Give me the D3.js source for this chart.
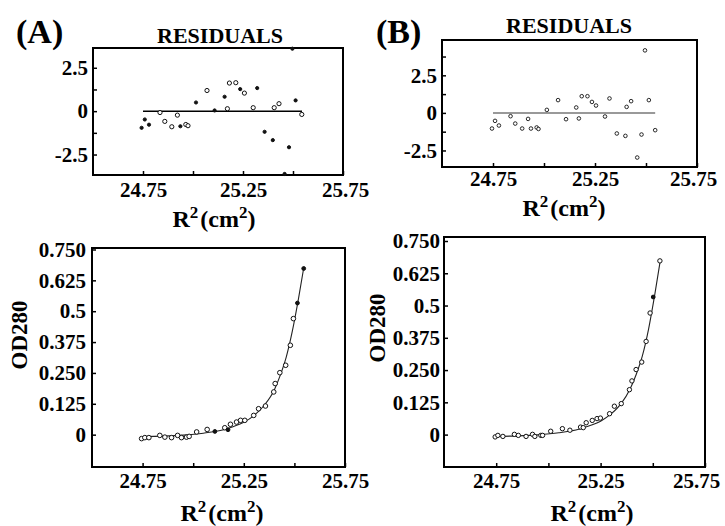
<!DOCTYPE html>
<html><head><meta charset="utf-8">
<script src="https://cdn.jsdelivr.net/npm/d3@7"></script>
<style>
body{margin:0;background:#fff}
svg{display:block}
text{font-family:"Liberation Serif","Times New Roman",serif;font-weight:bold;fill:#000}
</style>
</head><body>
<svg id="c" width="725" height="526"></svg>
<script>
// ---------- axis ticks ----------
const xTicks = [24.75, 25.0, 25.25, 25.5, 25.75];
const xTickLabels = ["24.75", "", "25.25", "", "25.75"];
const resTicksA = [-2.5, -1.25, 0, 1.25, 2.5];
const resTicksB = [-2.5, -1.25, 0, 1.25, 2.5, 3.75];
const resTickText = {"-2.5": "-2.5", "0": "0", "2.5": "2.5"};
const odTicks = [0, 0.125, 0.25, 0.375, 0.5, 0.625, 0.75];
const odTickLabels = ["0", "0.125", "0.250", "0.375", "0.5", "0.625", "0.750"];

// ---------- residuals, panel A ----------
const resA_x = [24.743, 24.759, 24.780, 24.835, 24.859, 24.894, 24.922, 24.937, 24.964, 24.975,
  25.015, 25.070, 25.108, 25.158, 25.172, 25.182, 25.214, 25.236, 25.257, 25.301,
  25.321, 25.358, 25.399, 25.406, 25.430, 25.480, 25.513, 25.544, 25.458, 25.497];
const resA_y = [-0.96, -0.48, -0.78, -0.08, -0.59, -0.90, -0.23, -0.87, -0.77, -0.84,
  0.50, 1.19, 0.04, 0.83, 0.14, 1.62, 1.64, 1.27, 1.04, 0.20,
  1.33, -1.19, -1.67, 0.20, 0.43, -2.08, 0.62, -0.19, -3.62, 3.60];
const resA_filled = [1,1,1,0,0,0,0,1,0,0, 1,0,1,1,0,0,0,1,0,0, 1,1,1,0,0,1,1,0,1,1];

// ---------- residuals, panel B ----------
const resB_x = [24.745, 24.760, 24.779, 24.836, 24.859, 24.893, 24.922, 24.936, 24.964, 24.973,
  25.014, 25.069, 25.108, 25.158, 25.171, 25.185, 25.213, 25.235, 25.255, 25.299,
  25.321, 25.357, 25.399, 25.405, 25.427, 25.457, 25.478, 25.495, 25.514, 25.545];
const resB_y = [-1.04, -0.53, -0.84, -0.22, -0.71, -1.04, -0.40, -1.04, -0.97, -1.07,
  0.20, 0.85, -0.42, 0.36, -0.37, 1.11, 1.11, 0.73, 0.49, -0.24,
  0.96, -1.37, -1.53, 0.40, 0.78, -2.97, -1.44, 4.16, 0.85, -1.15];

// ---------- OD280, panel A ----------
const odA_x = [24.745, 24.761, 24.781, 24.835, 24.860, 24.893, 24.923, 24.942, 24.967, 24.980,
  25.017, 25.069, 25.107, 25.156, 25.172, 25.184, 25.214, 25.234, 25.255, 25.299,
  25.323, 25.357, 25.398, 25.405, 25.428, 25.457, 25.480, 25.495, 25.515, 25.546];
const odA_y = [-0.016, -0.012, -0.012, -0.003, -0.010, -0.012, -0.003, -0.012, -0.010, -0.007,
  0.011, 0.021, 0.013, 0.028, 0.020, 0.042, 0.051, 0.058, 0.058, 0.078,
  0.105, 0.116, 0.173, 0.207, 0.251, 0.281, 0.362, 0.470, 0.533, 0.673];
const odA_filled = [0,0,0,0,0,0,0,0,0,0, 0,0,1,0,1,0,0,0,0,0, 0,0,0,0,0,0,0,0,1,1];
const fitA_x = [24.75, 24.85, 24.95, 25.05, 25.15, 25.2, 25.25, 25.3, 25.35, 25.4, 25.43, 25.46, 25.49, 25.52, 25.546];
const fitA_y = [-0.008, -0.006, -0.002, 0.006, 0.020, 0.033, 0.050, 0.077, 0.118, 0.180, 0.240, 0.315, 0.420, 0.550, 0.675];

// ---------- OD280, panel B ----------
const odB_x = [24.745, 24.758, 24.782, 24.837, 24.856, 24.893, 24.924, 24.935, 24.964, 24.972,
  25.011, 25.067, 25.103, 25.154, 25.167, 25.181, 25.210, 25.233, 25.249, 25.293,
  25.316, 25.349, 25.388, 25.400, 25.420, 25.447, 25.468, 25.487, 25.502, 25.534];
const odB_y = [-0.009, -0.003, -0.007, 0.001, -0.003, -0.007, 0.001, -0.007, -0.003, -0.003,
  0.013, 0.023, 0.017, 0.029, 0.027, 0.046, 0.055, 0.062, 0.064, 0.081,
  0.110, 0.120, 0.174, 0.208, 0.252, 0.281, 0.361, 0.471, 0.533, 0.673];
const odB_filled = [0,0,0,0,0,0,0,0,0,0, 0,0,0,0,0,0,0,0,0,0, 0,0,0,0,0,0,0,0,1,0];
const fitB_x = [24.75, 24.85, 24.95, 25.05, 25.15, 25.2, 25.25, 25.3, 25.35, 25.39, 25.42, 25.45, 25.48, 25.51, 25.536];
const fitB_y = [-0.007, -0.005, -0.001, 0.007, 0.022, 0.035, 0.052, 0.080, 0.122, 0.175, 0.232, 0.305, 0.410, 0.545, 0.675];

const zeroLine = [24.75, 25.545];

// ---------- drawing ----------
const svg = d3.select("#c");
const xDomain = [24.5, 25.75];

function r2Title(g, cx, y) {
  const t = g.append("text").attr("x", cx).attr("y", y).attr("text-anchor", "middle").style("font-size", "24px");
  t.append("tspan").text("R");
  t.append("tspan").attr("dy", -9).style("font-size", "17px").text("2");
  t.append("tspan").attr("dy", 9).attr("dx", 2).text("(cm");
  t.append("tspan").attr("dy", -9).style("font-size", "17px").text("2");
  t.append("tspan").attr("dy", 9).text(")");
}

function panel(cfg) {
  const x = d3.scaleLinear().domain(xDomain).range([cfg.left, cfg.right]);
  const y = d3.scaleLinear().domain(cfg.yDomain).range([cfg.bottom, cfg.top]);
  const g = svg.append("g");

  // x axis (inward ticks)
  const xa = g.append("g").attr("transform", `translate(0,${cfg.bottom})`)
    .call(d3.axisBottom(x).tickValues(xTicks).tickSize(-4).tickPadding(cfg.xPad)
      .tickFormat((d, i) => xTickLabels[i]));
  xa.select(".domain").remove();
  xa.selectAll("line").attr("stroke", "#000").attr("stroke-width", 1.5);
  xa.selectAll("text").style("font-size", "21px").attr("fill", "#000")
    .attr("dx", (d, i) => i === xTicks.length - 1 ? cfg.lastDx : 0);

  // y axis (inward ticks)
  const ya = g.append("g").attr("transform", `translate(${cfg.left},0)`)
    .call(d3.axisLeft(y).tickValues(cfg.yTicks).tickSize(-4).tickPadding(cfg.yPad)
      .tickFormat(cfg.yFormat));
  ya.select(".domain").remove();
  ya.selectAll("line").attr("stroke", "#000").attr("stroke-width", 1.5);
  ya.selectAll("text").style("font-size", "21px").attr("fill", "#000");

  // frame
  g.append("rect").attr("x", cfg.left).attr("y", cfg.top)
    .attr("width", cfg.right - cfg.left).attr("height", cfg.bottom - cfg.top)
    .attr("fill", "none").attr("stroke", "#000").attr("stroke-width", 2);

  // line
  const line = d3.line().x(d => x(d[0])).y(d => y(d[1])).curve(cfg.curve || d3.curveLinear);
  g.append("path").datum(d3.zip(cfg.lx, cfg.ly)).attr("d", line)
    .attr("fill", "none").attr("stroke", cfg.lineColor).attr("stroke-width", cfg.lineWidth);

  // points
  const pts = d3.zip(cfg.px, cfg.py, cfg.pf);
  g.append("g").selectAll("circle").data(pts).join("circle")
    .attr("cx", d => x(d[0])).attr("cy", d => y(d[1]))
    .attr("r", d => d[2] ? cfg.rFill : cfg.rOpen)
    .attr("fill", d => d[2] ? "#111" : "#fff")
    .attr("stroke", "#111").attr("stroke-width", cfg.ptStroke);

  return {x, y, g};
}

// Residuals A
panel({left: 93, right: 343, top: 48, bottom: 175, yDomain: [-3.68, 3.64],
  yTicks: resTicksA, yFormat: d => resTickText[String(d)] || "", xPad: 7, yPad: 5, lastDx: 2,
  lx: zeroLine, ly: [0, 0], lineColor: "#000", lineWidth: 1.5,
  px: resA_x, py: resA_y, pf: resA_filled, rFill: 1.6, rOpen: 2.1, ptStroke: 1});

// Residuals B
panel({left: 442, right: 697, top: 40, bottom: 167, yDomain: [-3.6, 4.85],
  yTicks: resTicksB, yFormat: d => resTickText[String(d)] || "", xPad: 4, yPad: 5, lastDx: -4,
  lx: zeroLine, ly: [0, 0], lineColor: "#777", lineWidth: 1.5,
  px: resB_x, py: resB_y, pf: resB_x.map(() => 0), rFill: 1.5, rOpen: 1.8, ptStroke: 0.9});

// OD280 A
panel({left: 92, right: 345, top: 248, bottom: 467, yDomain: [-0.131, 0.756],
  yTicks: odTicks, yFormat: (d, i) => odTickLabels[i], xPad: 6, yPad: 6, lastDx: 0,
  lx: fitA_x, ly: fitA_y, lineColor: "#222", lineWidth: 1.1, curve: d3.curveMonotoneX,
  px: odA_x, py: odA_y, pf: odA_filled, rFill: 1.9, rOpen: 2.3, ptStroke: 1});

// OD280 B
panel({left: 444, right: 705, top: 237, bottom: 467, yDomain: [-0.1255, 0.7655],
  yTicks: odTicks, yFormat: (d, i) => odTickLabels[i], xPad: 6, yPad: 4, lastDx: -9,
  lx: fitB_x, ly: fitB_y, lineColor: "#222", lineWidth: 1.1, curve: d3.curveMonotoneX,
  px: odB_x, py: odB_y, pf: odB_filled, rFill: 1.9, rOpen: 2.2, ptStroke: 1});

// Titles and labels
svg.append("text").attr("x", 16).attr("y", 43).style("font-size", "34px").text("(A)");
svg.append("text").attr("x", 376).attr("y", 43).style("font-size", "34px").text("(B)");
svg.append("text").attr("x", 220).attr("y", 43).attr("text-anchor", "middle").style("font-size", "22px").text("RESIDUALS");
svg.append("text").attr("x", 569).attr("y", 33).attr("text-anchor", "middle").style("font-size", "22px").text("RESIDUALS");

r2Title(svg, 214, 227);
r2Title(svg, 564, 216);
r2Title(svg, 222, 521);
r2Title(svg, 592, 521);

svg.append("text").attr("transform", "translate(27,335) rotate(-90)").attr("text-anchor", "middle")
  .style("font-size", "23px").text("OD280");
svg.append("text").attr("transform", "translate(385,328) rotate(-90)").attr("text-anchor", "middle")
  .style("font-size", "23px").text("OD280");
</script>
</body></html>
